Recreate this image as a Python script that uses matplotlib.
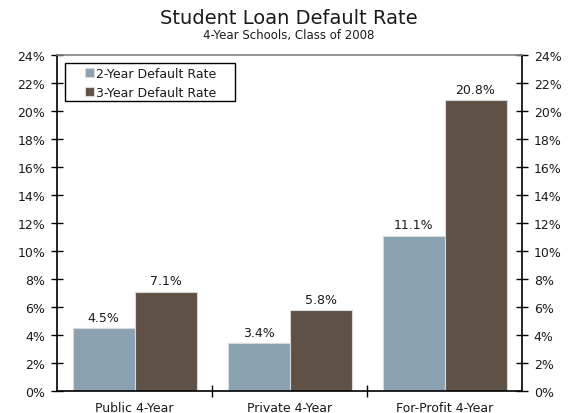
import matplotlib
matplotlib.use("Agg")
import matplotlib.pyplot as plt
from matplotlib.patches import Rectangle
import numpy as np

categories = ["Public 4-Year", "Private 4-Year", "For-Profit 4-Year"]
two_year = [4.5, 3.4, 11.1]
three_year = [7.1, 5.8, 20.8]
series_names = ["2-Year Default Rate", "3-Year Default Rate"]
colors = ["#8aa1b1", "#5f5146"]

plt.rcParams["font.family"] = ["DejaVu Sans"]
txt_color = "#1a1a1a"

fig = plt.figure(figsize=(5.78, 4.14), dpi=100)
ax = fig.add_axes([57 / 578, 1 - 392 / 414, 465 / 578, 336 / 414])

x = np.arange(len(categories))
w = 0.4
b1 = ax.bar(x - w / 2, two_year, w, color=colors[0], edgecolor="#d8d8d8", linewidth=0.8,
            label=series_names[0])
b2 = ax.bar(x + w / 2, three_year, w, color=colors[1], edgecolor="#d8d8d8", linewidth=0.8,
            label=series_names[1])

for bars, vals in ((b1, two_year), (b2, three_year)):
    for r, v in zip(bars, vals):
        ax.text(r.get_x() + r.get_width() / 2, v + 0.3, f"{v:.1f}%",
                ha="center", va="bottom", fontsize=9, color=txt_color)

ax.set_xlim(-0.5, 2.5)
ax.set_ylim(0, 24)
yt = np.arange(0, 25, 2)
ax.set_yticks(yt)
ax.set_yticklabels([f"{t}%" for t in yt])
ax.set_xticks([0.5, 1.5])
ax.set_xticklabels([])
ax.set_xticks(x, minor=True)
ax.set_xticklabels(categories, minor=True)
ax.tick_params(axis="x", which="minor", length=0, pad=7, labelsize=9, labelcolor=txt_color)
ax.tick_params(axis="x", which="major", direction="inout", length=9, width=1)
ax.tick_params(axis="y", which="major", direction="inout", length=9, width=1,
               labelsize=9, labelcolor=txt_color, pad=4,
               left=True, right=True, labelleft=True, labelright=True)

for s in ("left", "right", "bottom"):
    ax.spines[s].set_color("black")
    ax.spines[s].set_linewidth(1.2)
ax.spines["top"].set_color("#808080")
ax.spines["top"].set_linewidth(1.2)

# legend entries without frame, boxed by a separate rectangle
leg = ax.legend(loc="upper left", bbox_to_anchor=(0.035, 0.997), fontsize=9,
                frameon=False, handlelength=0.75, handleheight=0.75,
                handletextpad=0.2, borderpad=0.4, labelspacing=0.45)
for t in leg.get_texts():
    t.set_color(txt_color)
ax.add_patch(Rectangle((0.0172, 0.863), 0.366, 0.113, transform=ax.transAxes,
                       fill=False, edgecolor="black", linewidth=1.0, zorder=5))

fig.text(0.5, 1 - 18 / 414, "Student Loan Default Rate", ha="center", va="center",
         fontsize=14, color=txt_color)
fig.text(0.5, 1 - 35 / 414, "4-Year Schools, Class of 2008", ha="center", va="center",
         fontsize=8.5, color=txt_color)

fig.savefig("out.png", dpi=100)
